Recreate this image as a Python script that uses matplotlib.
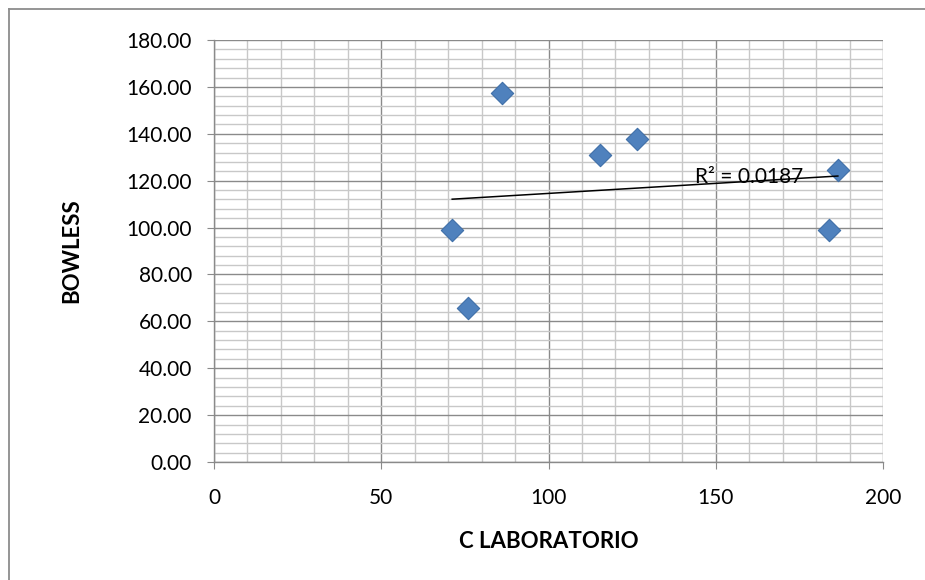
import numpy as np
import matplotlib.pyplot as plt
from matplotlib.ticker import MultipleLocator, FormatStrFormatter
from matplotlib.lines import Line2D

# Datos
c_laboratorio = [71.2, 75.9, 86.1, 115.4, 126.6, 186.5, 183.9]
bowless = [99.0, 65.7, 157.4, 131.0, 137.8, 124.6, 99.0]
r2_texto = 'R² = 0.0187'

plt.rcParams['font.family'] = ['Lato', 'DejaVu Sans']

fig = plt.figure(figsize=(9.25, 5.8), dpi=100)
ax = fig.add_axes([0.2314, 0.2034, 0.7232, 0.7276])

# Borde exterior (solo izquierda y arriba visibles)
fig.add_artist(Line2D([9/925, 9/925], [0, 1 - 9/580], color='#8c8c8c', lw=1.3))
fig.add_artist(Line2D([9/925, 1], [1 - 9/580, 1 - 9/580], color='#8c8c8c', lw=1.3))

ax.set_xlim(0, 200)
ax.set_ylim(0, 180)
ax.xaxis.set_major_locator(MultipleLocator(50))
ax.xaxis.set_minor_locator(MultipleLocator(10))
ax.yaxis.set_major_locator(MultipleLocator(20))
ax.yaxis.set_minor_locator(MultipleLocator(4))
ax.yaxis.set_major_formatter(FormatStrFormatter('%.2f'))

ax.grid(True, which='major', color='#8a8a8a', lw=1.0)
ax.grid(True, which='minor', color='#c8c8c8', lw=1.0)
ax.set_axisbelow(True)

for s in ['top', 'right']:
    ax.spines[s].set_visible(False)
for s in ['left', 'bottom']:
    ax.spines[s].set_color('#8a8a8a')
    ax.spines[s].set_linewidth(1.0)

ax.tick_params(which='major', length=5, color='#8a8a8a', labelsize=15)
ax.tick_params(which='minor', length=0)
ax.tick_params(axis='y', pad=11)
ax.tick_params(axis='x', pad=14)

ax.scatter(c_laboratorio, bowless, marker='D', s=130, color='#4F81BD',
           edgecolors='#3f6fa8', linewidths=0.8, zorder=3)

# Linea de tendencia lineal
m, b = np.polyfit(c_laboratorio, bowless, 1)
xt = np.array([min(c_laboratorio), max(c_laboratorio)])
ax.plot(xt, m * xt + b, color='black', lw=1.1, zorder=4)
ax.text(143.8, 119, r2_texto, fontsize=15, va='baseline', zorder=5)

ax.set_xlabel('C LABORATORIO', fontsize=16, fontweight='bold', labelpad=16)
ax.set_ylabel('BOWLESS', fontsize=16, fontweight='bold', labelpad=32)

plt.savefig('out.png', dpi=100)
